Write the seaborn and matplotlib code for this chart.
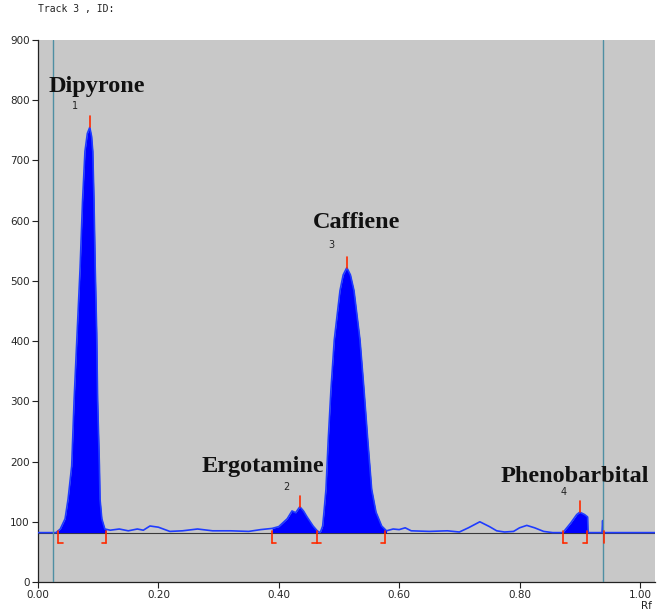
import numpy as np
import pandas as pd
import matplotlib
matplotlib.use("Agg")
import matplotlib.pyplot as plt
import seaborn as sns

# densitometric trace (Rf, AU)
rf_trace = [0.000, 0.030, 0.037, 0.045, 0.050, 0.056, 0.060, 0.065, 0.070, 0.074,
            0.078, 0.082, 0.086, 0.089, 0.091, 0.093, 0.095, 0.0975, 0.099, 0.102,
            0.103, 0.106, 0.111, 0.120, 0.135, 0.150, 0.165, 0.175, 0.186, 0.200,
            0.219, 0.240, 0.265, 0.290, 0.320, 0.350, 0.370, 0.389, 0.400, 0.414,
            0.422, 0.428, 0.435, 0.441, 0.447, 0.457, 0.463, 0.4675, 0.4696, 0.4729,
            0.4751, 0.4784, 0.4822, 0.4867, 0.4922, 0.5017, 0.507, 0.513, 0.519, 0.5249,
            0.5349, 0.5415, 0.5477, 0.5543, 0.5615, 0.5709, 0.579, 0.590, 0.600, 0.610,
            0.620, 0.650, 0.680, 0.700, 0.715, 0.734, 0.750, 0.762, 0.775, 0.790,
            0.800, 0.812, 0.825, 0.840, 0.855, 0.872, 0.885, 0.895, 0.900, 0.908,
            0.913, 0.914, 0.937, 0.938, 0.939, 1.025]
au_trace = [82, 82, 88, 105, 138, 193, 303, 413, 523, 633,
            715, 745, 755, 740, 715, 633, 523, 413, 303, 193,
            138, 105, 88, 86, 88, 85, 88, 86, 93, 91,
            84, 85, 88, 85, 85, 84, 87, 89, 92, 105,
            118, 115, 125, 118, 108, 93, 86, 82, 84, 93,
            116, 154, 237, 320, 402, 484, 510, 522, 510, 484,
            402, 320, 237, 154, 116, 93, 85, 88, 87, 90,
            85, 84, 85, 83, 90, 100, 92, 85, 83, 84,
            90, 94, 90, 84, 82, 82, 98, 112, 116, 112,
            108, 82, 82, 102, 82, 82]

baseline = 82

# integrated peaks
peak_names = ["Dipyrone", "Ergotamine", "Caffiene", "Phenobarbital"]
peak_ids = ["1", "2", "3", "4"]
peak_start = [0.033, 0.389, 0.467, 0.872]
peak_end = [0.113, 0.463, 0.579, 0.913]
peak_rf = [0.086, 0.435, 0.513, 0.900]
peak_au = [755, 125, 522, 116]

# label positions (Rf, AU)
name_x = [0.098, 0.374, 0.530, 0.892]
name_y = [823, 192, 597, 176]
id_x = [0.061, 0.412, 0.487, 0.874]
id_y = [790, 158, 560, 150]

# integration brackets: position and kind
bracket_rf = [0.034, 0.113, 0.389, 0.463, 0.576, 0.872, 0.912, 0.940]
bracket_kind = ["start", "end", "start", "both", "end", "start", "end", "none"]

start_line = 0.025
front_line = 0.938

df = pd.DataFrame({"Rf": rf_trace, "AU": au_trace})

sns.set_theme(style="ticks")
plt.rcParams["font.family"] = ["DejaVu Sans"]

fig = plt.figure(figsize=(6.61, 6.14), dpi=100)
ax = fig.add_axes([38 / 661, 1 - 582 / 614, 617 / 661, 542 / 614])
ax.set_facecolor("#c8c8c8")

ax.axhline(baseline, color="#3a3a3a", lw=0.8, zorder=1)

rf = np.array(rf_trace)
au = np.array(au_trace, dtype=float)
for s, e in zip(peak_start, peak_end):
    m = (rf > s) & (rf < e)
    xs = np.concatenate([[s], rf[m], [e]])
    ys = np.concatenate([[np.interp(s, rf, au)], au[m], [np.interp(e, rf, au)]])
    ax.fill_between(xs, baseline, ys, color="#0000ff", lw=0, zorder=2)

sns.lineplot(data=df, x="Rf", y="AU", color="#1f3cff", lw=1.2, ax=ax, zorder=3)

for x in [start_line, front_line]:
    ax.axvline(x, color="#4f8fa3", lw=1.0, zorder=4)

red = "#ff2a00"
foot = 0.007
for x, kind in zip(bracket_rf, bracket_kind):
    ax.plot([x, x], [baseline + 2, 64], color=red, lw=1.2, zorder=5)
    if kind in ("start", "both"):
        ax.plot([x, x + foot], [64, 64], color=red, lw=1.2, zorder=5)
    if kind in ("end", "both"):
        ax.plot([x - foot, x], [64, 64], color=red, lw=1.2, zorder=5)

for x, y in zip(peak_rf, peak_au):
    ax.plot([x, x], [y, y + 18], color=red, lw=1.2, zorder=5)

for name, x, y in zip(peak_names, name_x, name_y):
    ax.text(x, y, name, ha="center", va="center", fontsize=17.5, fontweight="bold",
            family="Liberation Serif", color="#111111", zorder=6)
for pid, x, y in zip(peak_ids, id_x, id_y):
    ax.text(x, y, pid, ha="center", va="center", fontsize=7, color="#222222", zorder=6)

ax.set_xlim(0, 1.025)
ax.set_ylim(0, 900)
ax.set_xticks([0, 0.2, 0.4, 0.6, 0.8, 1.0])
ax.set_xticklabels(["0.00", "0.20", "0.40", "0.60", "0.80", "1.00"])
ax.set_yticks(range(0, 901, 100))
ax.tick_params(labelsize=7.5, length=4, width=0.8, color="#222222", pad=2)
ax.set_xlabel("")
ax.set_ylabel("")
for side in ["top", "right"]:
    ax.spines[side].set_visible(False)
for side in ["left", "bottom"]:
    ax.spines[side].set_color("#222222")
    ax.spines[side].set_linewidth(0.9)

fig.text(38 / 661, 1 - 9 / 614, "Track 3 , ID:", fontsize=7, va="center", ha="left",
         family="DejaVu Sans Mono", color="#222222")
fig.text(646 / 661, 1 - 606 / 614, "Rf", fontsize=7.5, va="center", ha="center", color="#222222")

fig.savefig("out.png", dpi=100)
